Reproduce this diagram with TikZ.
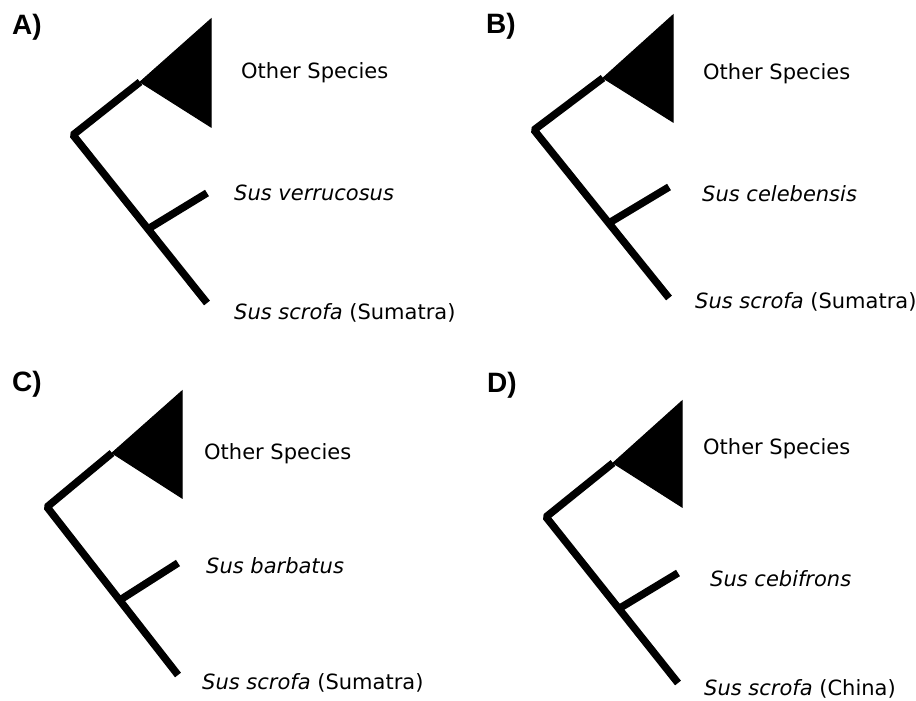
\documentclass[tikz,border=0pt]{standalone}
\usepackage{fontspec}
\setmainfont{DejaVu Sans}
\newfontfamily\panelfont{Liberation Sans}
\begin{document}
\begin{tikzpicture}[x=1pt,y=-1pt,
  branch/.style={line width=7.5pt,line join=bevel},
  clade/.style={fill=black,draw=black,line width=1pt,line join=miter},
  taxon/.style={anchor=west,inner sep=0pt,font=\fontsize{21}{25}\selectfont},
  paneltag/.style={inner sep=0pt,font=\panelfont\bfseries\fontsize{28}{32}\selectfont}]
\useasboundingbox (0,0) rectangle (916,701);

% ---------- Panel A ----------
\coordinate (rootA) at (73,135);
\coordinate (apexA) at (140,82);
\coordinate (trA) at (211,19);
\coordinate (brA) at (211,127);
\coordinate (innerA) at (148,229);
\coordinate (endA) at (207,303);
\coordinate (sisA) at (207,193);
\fill[clade] (apexA) -- (trA) -- (brA) -- cycle;
\draw[branch] (apexA) -- (rootA) -- (endA);
\draw[branch] (innerA) -- (sisA);
\node[paneltag] (tagA) at (27,27) {A)};
\node[taxon] (osA) at (241,73) {Other Species};
\node[taxon] (spA) at (234,193) {\textit{Sus verrucosus}};
\node[taxon] (scA) at (234,313) {\textit{Sus scrofa} (Sumatra)};

% ---------- Panel B ----------
\coordinate (rootB) at (534,130);
\coordinate (apexB) at (603,78);
\coordinate (trB) at (673,15);
\coordinate (brB) at (673,122);
\coordinate (innerB) at (609,223);
\coordinate (endB) at (669,298);
\coordinate (sisB) at (669,187);
\fill[clade] (apexB) -- (trB) -- (brB) -- cycle;
\draw[branch] (apexB) -- (rootB) -- (endB);
\draw[branch] (innerB) -- (sisB);
\node[paneltag] (tagB) at (501,26) {B)};
\node[taxon] (osB) at (703,74) {Other Species};
\node[taxon] (spB) at (702,194) {\textit{Sus celebensis}};
\node[taxon] (scB) at (695,302) {\textit{Sus scrofa} (Sumatra)};

% ---------- Panel C ----------
\coordinate (rootC) at (47,507);
\coordinate (apexC) at (112,453);
\coordinate (trC) at (182,391);
\coordinate (brC) at (182,498);
\coordinate (innerC) at (120,600);
\coordinate (endC) at (178,675);
\coordinate (sisC) at (178,563);
\fill[clade] (apexC) -- (trC) -- (brC) -- cycle;
\draw[branch] (apexC) -- (rootC) -- (endC);
\draw[branch] (innerC) -- (sisC);
\node[paneltag] (tagC) at (27,384) {C)};
\node[taxon] (osC) at (204,454) {Other Species};
\node[taxon] (spC) at (206,566) {\textit{Sus barbatus}};
\node[taxon] (scC) at (202,683) {\textit{Sus scrofa} (Sumatra)};

% ---------- Panel D ----------
\coordinate (rootD) at (546,517);
\coordinate (apexD) at (613,463);
\coordinate (trD) at (682,401);
\coordinate (brD) at (682,507);
\coordinate (innerD) at (620,608);
\coordinate (endD) at (678,683);
\coordinate (sisD) at (678,573);
\fill[clade] (apexD) -- (trD) -- (brD) -- cycle;
\draw[branch] (apexD) -- (rootD) -- (endD);
\draw[branch] (innerD) -- (sisD);
\node[paneltag] (tagD) at (502,385) {D)};
\node[taxon] (osD) at (703,449) {Other Species};
\node[taxon] (spD) at (710,579) {\textit{Sus cebifrons}};
\node[taxon] (scD) at (704,689) {\textit{Sus scrofa} (China)};
\end{tikzpicture}
\end{document}
